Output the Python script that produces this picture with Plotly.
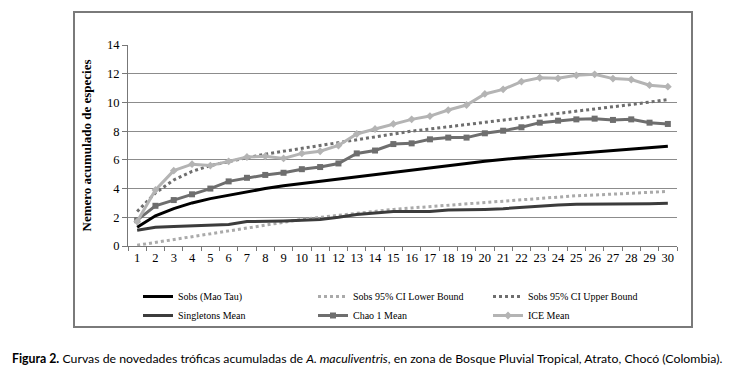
import plotly.graph_objects as go

samples = [str(i) for i in range(1, 31)]

sobs = [1.3, 2.1, 2.6, 3.0, 3.3, 3.55, 3.8, 4.0, 4.2, 4.35, 4.55, 4.7, 4.85, 5.0, 5.15,
        5.3, 5.45, 5.6, 5.75, 5.9, 6.05, 6.15, 6.25, 6.35, 6.5, 6.6, 6.7, 6.8, 6.9, 6.95]
lower = [0.05, 0.25, 0.45, 0.65, 0.85, 1.1, 1.3, 1.5, 1.7, 1.85, 2.0, 2.15, 2.25, 2.4, 2.55,
         2.65, 2.75, 2.85, 2.95, 3.05, 3.15, 3.25, 3.35, 3.45, 3.5, 3.55, 3.6, 3.7, 3.75, 3.8]
upper = [2.4, 3.7, 4.6, 5.2, 5.6, 5.9, 6.15, 6.4, 6.6, 6.8, 7.0, 7.2, 7.45, 7.65, 7.85,
         8.0, 8.15, 8.3, 8.45, 8.6, 8.75, 8.9, 9.05, 9.2, 9.35, 9.5, 9.7, 9.85, 10.0, 10.2]
singletons = [1.1, 1.3, 1.35, 1.4, 1.4, 1.5, 1.7, 1.7, 1.75, 1.8, 1.85, 2.0, 2.2, 2.3, 2.4,
              2.4, 2.4, 2.5, 2.5, 2.55, 2.6, 2.7, 2.8, 2.85, 2.9, 2.9, 2.9, 2.95, 2.95, 2.98]
chao1 = [1.8, 2.8, 3.2, 3.6, 4.0, 4.5, 4.75, 4.95, 5.1, 5.35, 5.5, 5.75, 6.45, 6.65, 7.1,
         7.15, 7.43, 7.55, 7.55, 7.85, 8.03, 8.27, 8.59, 8.73, 8.82, 8.87, 8.78, 8.82, 8.59, 8.5]
ice = [1.7, 3.9, 5.25, 5.7, 5.6, 5.9, 6.2, 6.25, 6.1, 6.45, 6.6, 7.0, 7.8, 8.15, 8.5,
       8.82, 9.05, 9.47, 9.82, 10.59, 10.91, 11.45, 11.72, 11.68, 11.89, 11.96, 11.66, 11.59, 11.2, 11.1]

y_ticks = [0, 2, 4, 6, 8, 10, 12, 14]

serif = "Liberation Serif"

fig = go.Figure()
fig.add_trace(go.Scatter(x=samples, y=sobs, name="Sobs (Mao Tau)", mode="lines",
                         line=dict(color="#000000", width=3)))
fig.add_trace(go.Scatter(x=samples, y=lower, name="Sobs 95% CI Lower Bound", mode="lines",
                         line=dict(color="#aaaaaa", width=3, dash="dot")))
fig.add_trace(go.Scatter(x=samples, y=upper, name="Sobs 95% CI Upper Bound", mode="lines",
                         line=dict(color="#6e6e6e", width=3, dash="dot")))
fig.add_trace(go.Scatter(x=samples, y=singletons, name="Singletons Mean", mode="lines",
                         line=dict(color="#3c3c3c", width=3)))
fig.add_trace(go.Scatter(x=samples, y=chao1, name="Chao 1 Mean", mode="lines+markers",
                         line=dict(color="#6e6e6e", width=3),
                         marker=dict(symbol="square", size=6, color="#6e6e6e")))
fig.add_trace(go.Scatter(x=samples, y=ice, name="ICE Mean", mode="lines+markers",
                         line=dict(color="#b4b4b4", width=3),
                         marker=dict(symbol="diamond", size=6, color="#b4b4b4")))

L, R, T, B = 128, 677, 45, 246
W, H = 742, 391
pw, ph = R - L, B - T

def px(x):
    return (x - L) / pw

def py(y):
    return (B - y) / ph

fig.update_layout(
    width=W, height=H,
    margin=dict(l=L, r=W - R, t=T, b=H - B, pad=0, autoexpand=False),
    paper_bgcolor="white", plot_bgcolor="white",
    font=dict(family=serif, color="#000"),
    showlegend=True,
    legend=dict(orientation="h", x=px(138), y=py(282), xanchor="left", yanchor="top",
                entrywidth=130, entrywidthmode="pixels", itemwidth=30,
                font=dict(family=serif, size=10, color="#000"),
                tracegroupgap=0, bgcolor="rgba(0,0,0,0)"),
    xaxis=dict(type="category", range=[-0.5, 29.5], showgrid=False,
               ticks="outside", tickson="boundaries", ticklen=4, tickcolor="#777",
               tickangle=0,
               showline=True, linecolor="#777", linewidth=1,
               tickfont=dict(family=serif, size=12.5, color="#000")),
    yaxis=dict(range=[0, 14], tickvals=y_ticks, showgrid=True, gridcolor="#8c8c8c", gridwidth=1,
               ticks="outside", ticklen=5, tickcolor="#777",
               showline=True, linecolor="#777", linewidth=1, zeroline=False,
               tickfont=dict(family=serif, size=12.5, color="#000"),
               title=dict(text="<b>Nemero acumulado de especies</b>", standoff=12,
                          font=dict(family=serif, size=13, color="#000"))),
)

fig.add_shape(type="rect", xref="paper", yref="paper",
              x0=px(74), x1=px(692), y0=py(327), y1=py(12),
              line=dict(color="#7a7a7a", width=2), layer="below")

fig.add_annotation(xref="paper", yref="paper", x=px(10), y=py(358), xanchor="left", yanchor="middle",
                   showarrow=False,
                   text="<b>Figura 2.</b> Curvas de novedades tróficas acumuladas de <i>A. maculiventris</i>, "
                        "en zona de Bosque Pluvial Tropical, Atrato, Chocó (Colombia).",
                   font=dict(family="Lato", size=12.3, color="#000"))

fig.write_html("out.html", config={"displayModeBar": False},
               post_script="document.body.style.margin='0';")
